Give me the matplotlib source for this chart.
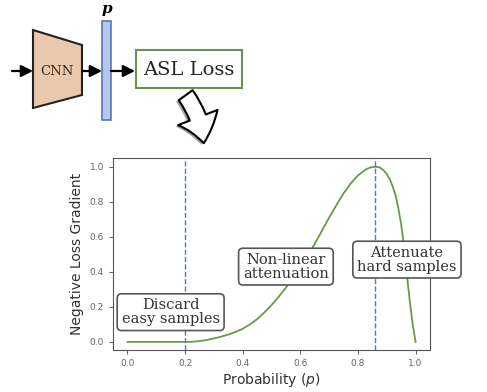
import numpy as np
import matplotlib
matplotlib.use("Agg")
import matplotlib.pyplot as plt
from matplotlib.patches import Polygon, Rectangle, FancyArrowPatch
import matplotlib.patheffects as pe

# curve
prob = [0.0, 0.1, 0.2, 0.225, 0.25, 0.275, 0.3, 0.325, 0.35, 0.375, 0.4,
        0.425, 0.45, 0.475, 0.5, 0.525, 0.55, 0.575, 0.6, 0.625, 0.65,
        0.675, 0.7, 0.725, 0.75, 0.775, 0.8, 0.815, 0.83, 0.845, 0.86,
        0.875, 0.89, 0.9, 0.91, 0.92, 0.93, 0.94, 0.95, 0.96, 0.97, 0.98,
        0.99, 1.0]
grad = [0.0, 0.0, 0.0, 0.001, 0.005, 0.011, 0.02, 0.03, 0.042, 0.057, 0.075,
        0.1, 0.13, 0.168, 0.21, 0.258, 0.31, 0.365, 0.425, 0.49, 0.56,
        0.635, 0.71, 0.78, 0.848, 0.905, 0.95, 0.97, 0.987, 0.997, 1.0,
        0.997, 0.978, 0.958, 0.93, 0.89, 0.84, 0.765, 0.67, 0.55, 0.38, 0.23,
        0.1, 0.0]
vlines = [0.2, 0.86]
boxes = [(0.15, 0.17, "Discard\neasy samples"),
         (0.55, 0.43, "Non-linear\nattenuation"),
         (0.97, 0.47, "Attenuate\nhard samples")]

W, H = 487, 392
fig = plt.figure(figsize=(W / 100, H / 100), dpi=100)

# diagram on top, drawn in pixel coords
d = fig.add_axes([0, 0, 1, 1])
d.set_xlim(0, W)
d.set_ylim(H, 0)
d.axis("off")

def arrow(x0, x1, y):
    d.annotate("", xy=(x1, y), xytext=(x0, y),
               arrowprops=dict(arrowstyle="-|>,head_width=0.35,head_length=0.7",
                               color="black", lw=1.6, shrinkA=0, shrinkB=0))

d.add_patch(Polygon([(33, 30), (82, 45), (82, 95), (33, 108)], closed=True,
                    fc="#eac8ad", ec="#222222", lw=1.5))
d.text(57, 71, "CNN", family="DejaVu Serif", fontsize=9.5, color="#3a2a22",
       ha="center", va="center")
arrow(12, 33, 71)
arrow(82, 102, 71)
d.add_patch(Rectangle((102, 21), 9, 99, fc="#b3c8ec", ec="#5a78b0", lw=1.2))
d.text(107, 9, "p", family="DejaVu Serif", fontsize=11, fontweight="bold",
       style="italic", ha="center", va="center")
arrow(111, 135, 71)
d.add_patch(Rectangle((136, 50), 106, 38, fc="white", ec="#6d8f50", lw=1.5))
d.text(189, 70, "ASL Loss", family="DejaVu Serif", fontsize=14,
       color="#222222", ha="center", va="center")

big = FancyArrowPatch((184, 93), (204, 146),
                      arrowstyle="simple,head_width=1.6,head_length=1.0,tail_width=0.65",
                      connectionstyle="arc3,rad=-0.15", mutation_scale=19,
                      fc="white", ec="black", lw=1.5)
big.set_path_effects([pe.SimplePatchShadow(offset=(-2, -1), alpha=0.5), pe.Normal()])
d.add_patch(big)

# chart
ax = fig.add_axes([113 / W, 42 / H, 317 / W, 192 / H])
ax.plot(prob, grad, color="#6a9a45", lw=1.3)
for v in vlines:
    ax.axvline(v, color="#4a7fb5", ls="--", lw=1.0)
ax.set_xlim(-0.05, 1.05)
ax.set_ylim(-0.046, 1.05)
ax.set_xticks(np.arange(0, 1.01, 0.2))
ax.set_yticks(np.arange(0, 1.01, 0.2))
ax.tick_params(labelsize=6.5, labelcolor="#666666", color="#666666", length=3)
for s in ax.spines.values():
    s.set_color("#555555")
ax.set_xlabel("Probability ($p$)", fontsize=10, color="#333333", labelpad=2)
ax.set_ylabel("Negative Loss Gradient", fontsize=10, color="#333333", labelpad=4)

for x, y, t in boxes:
    ax.text(x, y, t, family="DejaVu Serif", fontsize=10.5, color="#333333",
            ha="center", va="center", linespacing=1.0, clip_on=False,
            bbox=dict(boxstyle="round,pad=0.3", fc="white", ec="#555555", lw=1.2))

fig.savefig("out.png", dpi=100)
